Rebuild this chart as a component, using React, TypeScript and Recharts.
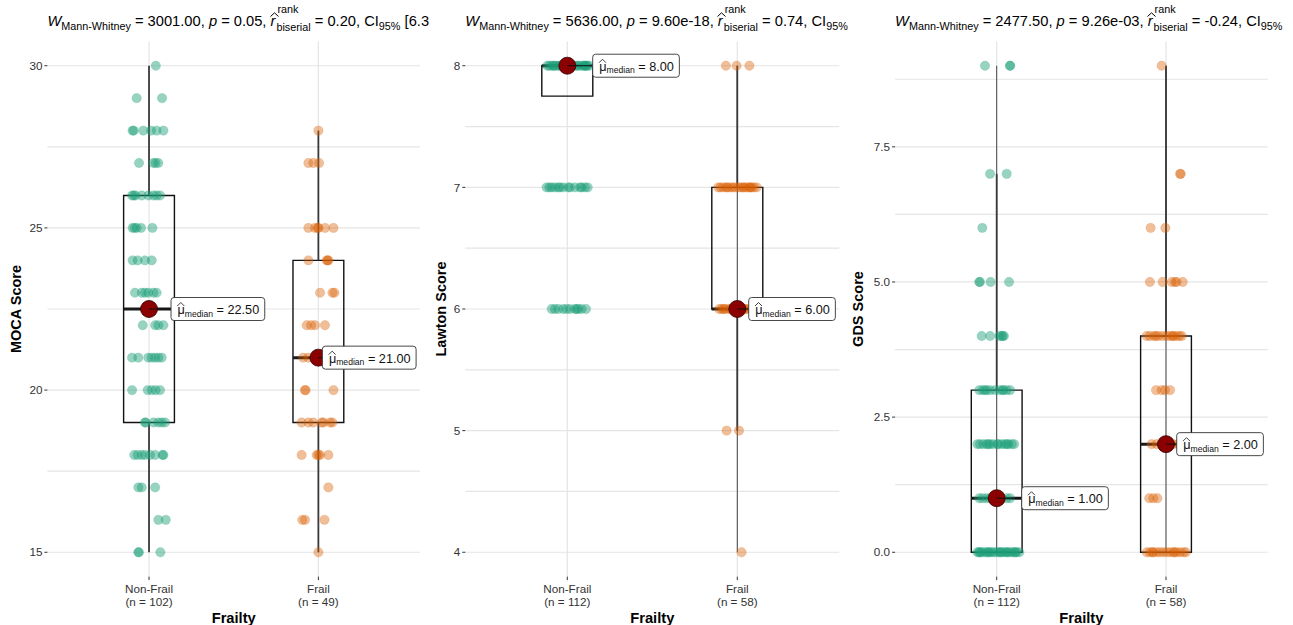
import React, { useLayoutEffect, useRef, useState } from "react";
import {
  ComposedChart,
  Scatter,
  XAxis,
  YAxis,
  CartesianGrid,
  ReferenceArea,
  ReferenceLine,
} from "recharts";

const GROUPS = ["Non-Frail", "Frail"];
const COLORS = ["#1B9E77", "#D95F02"];
const FONT = '"Liberation Sans", Arial, Helvetica, sans-serif';

// ---- MOCA ----
const mocaN = [102, 49];
const mocaTicks = [15, 20, 25, 30];
const mocaGrid = [15, 17.5, 20, 22.5, 25, 27.5, 30];
// q1, median, q3, whisker low, whisker high, thin line min, thin line max
const mocaBox = [
  [19, 22.5, 26, 15, 30, null, null],
  [19, 21, 24, 15, 28, null, null],
];
const mocaStats = ["3001.00", "0.05", "0.20", " [6.31e-03, 0.37]"];
// [score, jitter]
const mocaNonFrail: [number, number][] = [
  [30, 0.04],
  [29, -0.073], [29, 0.077],
  [28, -0.097], [28, -0.034], [28, 0.012], [28, 0.045], [28, 0.085], [28, -0.09],
  [27, -0.059], [27, 0.026], [27, 0.039], [27, 0.055],
  [26, -0.1], [26, -0.079], [26, -0.043], [26, -0.004], [26, 0.026], [26, 0.045], [26, 0.065], [26, -0.09],
  [25, -0.097], [25, -0.073], [25, -0.047], [25, 0.02], [25, -0.085],
  [24, -0.097], [24, -0.067], [24, -0.024], [24, 0.016],
  [23, -0.083], [23, -0.043], [23, -0.024], [23, -0.004], [23, 0.026], [23, 0.045],
  [22, -0.037], [22, 0.036], [22, 0.055], [22, 0.085],
  [21, -0.1], [21, -0.063], [21, -0.004], [21, 0.016], [21, 0.036], [21, 0.055], [21, 0.075],
  [20, -0.1], [20, -0.008], [20, 0.016], [20, 0.039], [20, 0.065],
  [19, -0.024], [19, 0.026], [19, 0.055], [19, 0.075], [19, 0.095], [19, -0.02],
  [18, -0.087], [18, -0.067], [18, -0.043], [18, -0.024], [18, 0.006], [18, 0.036], [18, 0.085], [18, 0.08],
  [17, -0.063], [17, -0.043], [17, 0.036],
  [16, 0.055], [16, 0.099],
  [15, -0.063], [15, 0.067], [15, -0.06],
];
const mocaFrail: [number, number][] = [
  [28, 0],
  [27, -0.059], [27, -0.03], [27, 0.004],
  [25, -0.059], [25, -0.02], [25, -0.004], [25, 0.039], [25, 0.089], [25, 0.0],
  [24, -0.059], [24, 0.049], [24, 0.059], [24, 0.055],
  [23, 0.01], [23, 0.083], [23, 0.095],
  [22, -0.069], [22, -0.043], [22, -0.02], [22, 0.039],
  [21, -0.09], [21, -0.06],
  [20, -0.075], [20, -0.08], [20, 0.089],
  [19, -0.099], [19, -0.059], [19, -0.03], [19, 0.03], [19, 0.069], [19, 0.083], [19, 0.02],
  [18, -0.099], [18, -0.01], [18, 0.01], [18, 0.059], [18, 0.0],
  [17, 0.059],
  [16, -0.095], [16, -0.079], [16, 0.036],
  [15, 0],
];

// ---- Lawton ----
const lawtonN = [112, 58];
const lawtonTicks = [4, 5, 6, 7, 8];
const lawtonGrid = [4, 4.5, 5, 5.5, 6, 6.5, 7, 7.5, 8];
const lawtonBox = [
  [7.75, 8, 8, 7.75, 8, null, null],
  [6, 6, 7, 5, 8, 4, 8],
];
const lawtonStats = ["5636.00", "9.60e-18", "0.74", ""];
const lawtonNonFrail: [number, number][] = [
  [8, -0.118], [8, -0.106], [8, -0.092], [8, -0.078], [8, -0.063], [8, -0.043], [8, -0.024], [8, -0.004],
  [8, 0.016], [8, 0.035], [8, 0.055], [8, 0.075], [8, 0.09], [8, 0.104], [8, 0.118], [8, 0.129],
  [8, -0.08], [8, -0.05], [8, 0.02], [8, 0.06], [8, 0.1], [8, 0.11],
  [7, -0.122], [7, -0.106], [7, -0.092], [7, -0.073], [7, -0.053], [7, -0.043], [7, -0.024],
  [7, 0.006], [7, 0.016], [7, 0.045], [7, 0.075], [7, 0.084], [7, 0.104], [7, 0.12],
  [6, -0.092], [6, -0.073], [6, -0.053], [6, -0.024], [6, -0.004], [6, 0.016], [6, 0.045],
  [6, 0.055], [6, 0.065], [6, 0.084], [6, 0.11],
];
const lawtonFrail: [number, number][] = [
  [8, -0.067], [8, -0.004], [8, 0.071],
  [7, -0.112], [7, -0.098], [7, -0.082], [7, -0.063], [7, -0.043], [7, -0.027], [7, -0.014], [7, 0.006],
  [7, 0.02], [7, 0.035], [7, 0.055], [7, 0.071], [7, 0.084], [7, 0.098], [7, 0.114], [7, -0.06], [7, 0.04], [7, 0.075],
  [6, -0.106], [6, -0.092], [6, -0.073], [6, -0.053], [6, -0.033], [6, -0.014], [6, 0.016], [6, 0.035],
  [6, 0.055], [6, 0.075], [6, 0.104], [6, -0.08], [6, -0.04], [6, 0.0], [6, 0.045], [6, 0.09],
  [5, -0.063], [5, 0.01],
  [4, 0.025],
];

// ---- GDS ----
const gdsN = [112, 58];
const gdsTicks = [0, 2.5, 5, 7.5];
const gdsGrid = [0, 1.25, 2.5, 3.75, 5, 6.25, 7.5, 8.75];
const gdsBox = [
  [0, 1, 3, 0, 7, 0, 9],
  [0, 2, 4, 0, 9, 0, 9],
];
const gdsStats = ["2477.50", "9.26e-03", "-0.24", ""];
const gdsNonFrail: [number, number][] = [
  [9, -0.069], [9, 0.079], [9, 0.079],
  [7, -0.039], [7, 0.059],
  [6, -0.085],
  [5, -0.103], [5, -0.099], [5, -0.036], [5, 0.073],
  [4, -0.089], [4, -0.039], [4, 0.016], [4, 0.03], [4, 0.043], [4, 0.036],
  [3, -0.103], [3, -0.083], [3, -0.059], [3, -0.039], [3, -0.01], [3, 0.016], [3, 0.036], [3, 0.059], [3, 0.079], [3, -0.069], [3, 0.039],
  [2, -0.114], [2, -0.099], [2, -0.079], [2, -0.059], [2, -0.039], [2, -0.02], [2, 0.004], [2, 0.03],
  [2, 0.049], [2, 0.069], [2, 0.089], [2, 0.103], [2, -0.05], [2, 0.01], [2, 0.06],
  [1, -0.103], [1, -0.083], [1, -0.059], [1, 0.059], [1, 0.079], [1, -0.039], [1, 0.03], [1, 0.004],
  [0, -0.114], [0, -0.103], [0, -0.089], [0, -0.075], [0, -0.059], [0, -0.043], [0, -0.03], [0, -0.016],
  [0, 0], [0, 0.016], [0, 0.03], [0, 0.043], [0, 0.059], [0, 0.075], [0, 0.089], [0, 0.103], [0, 0.118],
  [0, 0.134], [0, -0.1], [0, -0.05], [0, 0.02], [0, 0.06], [0, 0.11],
];
const gdsFrail: [number, number][] = [
  [9, -0.026],
  [7, 0.083], [7, 0.087],
  [6, -0.091], [6, -0.004],
  [5, -0.095], [5, -0.02], [5, 0.034], [5, 0.053], [5, 0.063], [5, 0.099],
  [4, -0.114], [4, -0.095], [4, -0.071], [4, -0.045], [4, -0.02], [4, 0.004], [4, 0.024], [4, 0.043],
  [4, 0.063], [4, 0.079], [4, 0.093], [4, 0.04], [4, -0.06],
  [3, -0.059], [3, -0.026], [3, -0.006], [3, 0.024],
  [2, -0.085], [2, -0.055], [2, -0.026], [2, 0.024], [2, 0.043], [2, 0.073], [2, 0.1],
  [1, -0.099], [1, -0.075], [1, -0.051],
  [0, -0.114], [0, -0.095], [0, -0.075], [0, -0.055], [0, -0.036], [0, -0.016], [0, 0.004], [0, 0.024],
  [0, 0.043], [0, 0.063], [0, 0.083], [0, 0.103], [0, 0.118], [0, -0.08], [0, 0.05],
];

const PANELS = [
  {
    left: 0, width: 430, yw: 47.4, right: 10, domain: [14.25, 30.75],
    ticks: mocaTicks, grid: mocaGrid, yTitle: "MOCA Score", yTitleX: 16,
    n: mocaN, box: mocaBox, pts: [mocaNonFrail, mocaFrail], stats: mocaStats,
    labelDx: [22, 4], digits: 0,
  },
  {
    left: 430, width: 430, yw: 35.3, right: 20.7, domain: [3.8, 8.2],
    ticks: lawtonTicks, grid: lawtonGrid, yTitle: "Lawton Score", yTitleX: 11,
    n: lawtonN, box: lawtonBox, pts: [lawtonNonFrail, lawtonFrail], stats: lawtonStats,
    labelDx: [25.4, 11.4], digits: 0,
  },
  {
    left: 845, width: 448, yw: 50.1, right: 25.4, domain: [-0.45, 9.45],
    ticks: gdsTicks, grid: gdsGrid, yTitle: "GDS Score", yTitleX: 13,
    n: gdsN, box: gdsBox, pts: [gdsNonFrail, gdsFrail], stats: gdsStats,
    labelDx: [25, 10.7], digits: 1,
  },
];

const PLOT_TOP = 41.4;
const X_AXIS_H = 48.4;
const HALF_BOX = 0.15;

function MedianMarker(props: any) {
  const { cx, cy, payload } = props;
  const ref = useRef<SVGTextElement>(null);
  const [tw, setTw] = useState(76);
  useLayoutEffect(() => {
    if (ref.current) setTw(ref.current.getBBox().width);
  }, []);
  if (cx == null || cy == null) return null;
  const lx = cx + payload.dx;
  const h = 23;
  return (
    <g>
      <circle cx={cx} cy={cy} r={8.5} fill="#8B0000" stroke="#300" strokeWidth={0.8} />
      <line x1={cx} y1={cy} x2={lx} y2={cy} stroke="#111" strokeWidth={1} />
      <rect x={lx} y={cy - h / 2} width={tw + 12} height={h} rx={3} fill="#fff" stroke="#333" strokeWidth={0.9} />
      <polyline
        points={`${lx + 6.3},${cy - 3} ${lx + 9.8},${cy - 6.5} ${lx + 13.3},${cy - 3}`}
        fill="none" stroke="#111" strokeWidth={0.8}
      />
      <text ref={ref} x={lx + 6.5} y={cy + 5} fontSize={12.7} fill="#111">
        <tspan>μ</tspan>
        <tspan fontSize={8.6} dy={2.5}>median</tspan>
        <tspan dy={-2.5}>{" = " + payload.label}</tspan>
      </text>
    </g>
  );
}

const sub: React.CSSProperties = { fontSize: 10.8, position: "relative", top: 3.5 };

function Title({ left, stats }: { left: number; stats: string[] }) {
  return (
    <div
      style={{
        position: "absolute", left, top: 9, whiteSpace: "nowrap",
        fontSize: 14.7, lineHeight: "24px", color: "#000",
      }}
    >
      <i>W</i>
      <span style={sub}>Mann-Whitney</span>
      {" = " + stats[0] + ", "}
      <i>p</i>
      {" = " + stats[1] + ", "}
      <span style={{ position: "relative", display: "inline-block" }}>
        <i>r</i>
        <svg width="9" height="5" style={{ position: "absolute", left: -1, top: 3 }}>
          <polyline points="0.5,4.5 4.5,0.8 8.5,4.5" fill="none" stroke="#000" strokeWidth="1" />
        </svg>
      </span>
      <span style={{ position: "relative", display: "inline-block", marginLeft: 1 }}>
        <span style={{ fontSize: 10.8, position: "relative", top: 4.5 }}>biserial</span>
        <span style={{ fontSize: 10.8, lineHeight: "12px", position: "absolute", left: 1, top: -6 }}>rank</span>
      </span>
      {" = " + stats[2] + ", CI"}
      <span style={sub}>95%</span>
      {stats[3]}
    </div>
  );
}

function Panel({ cfg }: { cfg: any }) {
  const medians = cfg.box.map((b: any[], i: number) => ({
    x: i + 1,
    y: b[1],
    label: b[1].toFixed(2),
    dx: cfg.labelDx[i],
  }));

  const refs: React.ReactNode[] = [];
  cfg.box.forEach((b: any[], i: number) => {
    const pos = i + 1;
    const [q1, med, q3, lo, hi, mn, mx] = b;
    if (mn != null) {
      refs.push(
        <ReferenceLine key={`t${i}`} segment={[{ x: pos, y: mn }, { x: pos, y: mx }]}
          stroke="#333" strokeWidth={0.9} ifOverflow="visible" />
      );
    }
    if (hi > q3) {
      refs.push(
        <ReferenceLine key={`wh${i}`} segment={[{ x: pos, y: q3 }, { x: pos, y: hi }]}
          stroke="#3a3a3a" strokeWidth={1.8} ifOverflow="visible" />
      );
    }
    if (lo < q1) {
      refs.push(
        <ReferenceLine key={`wl${i}`} segment={[{ x: pos, y: lo }, { x: pos, y: q1 }]}
          stroke="#3a3a3a" strokeWidth={1.8} ifOverflow="visible" />
      );
    }
    refs.push(
      <ReferenceArea key={`b${i}`} x1={pos - HALF_BOX} x2={pos + HALF_BOX} y1={q1} y2={q3}
        fill="#fff" fillOpacity={0} stroke="#111" strokeWidth={1.4} strokeOpacity={1} ifOverflow="visible" />
    );
    refs.push(
      <ReferenceLine key={`m${i}`} segment={[{ x: pos - HALF_BOX, y: med }, { x: pos + HALF_BOX, y: med }]}
        stroke="#1a1a1a" strokeWidth={3} ifOverflow="visible" />
    );
  });

  return (
    <div style={{ position: "absolute", left: cfg.left, top: 0, width: cfg.width, height: 625, overflow: "hidden" }}>
      <Title left={cfg.yw} stats={cfg.stats} />
      <ComposedChart width={cfg.width} height={625} margin={{ top: PLOT_TOP, right: cfg.right, bottom: 0, left: 0 }}>
        <CartesianGrid stroke="#E5E5E5" strokeWidth={1.2} horizontalValues={cfg.grid} verticalValues={[1, 2]} />
        <XAxis
          type="number"
          dataKey="x"
          domain={[0.4, 2.6]}
          ticks={[1, 2]}
          interval={0}
          allowDataOverflow
          height={X_AXIS_H}
          axisLine={false}
          tickSize={3.5}
          tickLine={{ stroke: "#333" }}
          tick={(p: any) => {
            const i = Math.round(p.payload.value) - 1;
            return (
              <text x={p.x} y={p.y} textAnchor="middle" fill="#333" fontSize={11.7}>
                <tspan x={p.x} dy={11}>{GROUPS[i]}</tspan>
                <tspan x={p.x} dy={13}>{`(n = ${cfg.n[i]})`}</tspan>
              </text>
            );
          }}
          label={{
            value: "Frailty", position: "insideBottom", offset: 2.5,
            style: { fontWeight: 700, fontSize: 14.7, fill: "#000" },
          }}
        />
        <YAxis
          type="number"
          dataKey="y"
          domain={cfg.domain}
          ticks={cfg.ticks}
          interval={0}
          allowDataOverflow
          width={cfg.yw}
          axisLine={false}
          tickSize={3}
          tickLine={{ stroke: "#333" }}
          tick={{ fill: "#333", fontSize: 11.7 }}
          tickFormatter={(v: number) => v.toFixed(cfg.digits)}
          label={{
            content: (lp: any) => {
              const vb = lp.viewBox || {};
              const cy = (vb.y ?? PLOT_TOP) + (vb.height ?? 535) / 2;
              const cx = cfg.yTitleX;
              return (
                <text x={cx} y={cy} transform={`rotate(-90 ${cx} ${cy})`} textAnchor="middle"
                  dominantBaseline="central" fontWeight={700} fontSize={14.5} fill="#000">
                  {cfg.yTitle}
                </text>
              );
            },
          }}
        />
        {cfg.pts.map((list: [number, number][], i: number) => (
          <Scatter
            key={`s${i}`}
            data={list.map(([v, j]) => ({ x: i + 1 + j, y: v }))}
            isAnimationActive={false}
            shape={(p: any) => (
              <circle cx={p.cx} cy={p.cy} r={4.7} fill={COLORS[i]} fillOpacity={i === 0 ? 0.45 : 0.4}
                stroke={COLORS[i]} strokeOpacity={0.3} strokeWidth={0.6} />
            )}
          />
        ))}
        {refs}
        <Scatter data={medians} isAnimationActive={false} shape={(p: any) => <MedianMarker {...p} />} />
      </ComposedChart>
    </div>
  );
}

export default function App() {
  return (
    <div
      style={{
        position: "absolute", left: 0, top: 0, width: 1293, height: 625,
        background: "#fff", fontFamily: FONT, overflow: "hidden",
      }}
    >
      {PANELS.map((cfg, i) => (
        <Panel key={i} cfg={cfg} />
      ))}
    </div>
  );
}
